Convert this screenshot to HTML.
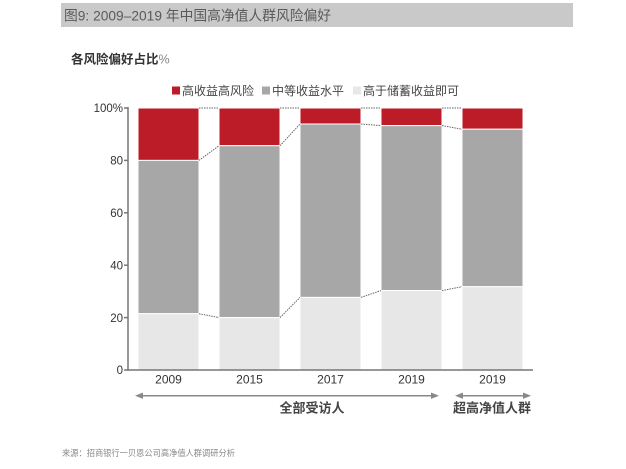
<!DOCTYPE html>
<html><head><meta charset="utf-8"><style>
html,body{margin:0;padding:0;background:#fff;}
body{width:626px;height:469px;overflow:hidden;position:relative;font-family:"Liberation Sans","Noto Sans CJK SC",sans-serif;}
</style></head><body>
<svg width="626" height="469" viewBox="0 0 626 469" xmlns="http://www.w3.org/2000/svg" style="position:absolute;left:0;top:0">
<rect x="61" y="3" width="512" height="24" fill="#c9c9c9"/>
<text x="64" y="20.5" font-size="14" fill="#5a5a5a" font-family="Liberation Sans, Noto Sans CJK SC, sans-serif" textLength="267" lengthAdjust="spacingAndGlyphs">图9: 2009–2019 年中国高净值人群风险偏好</text>
<text x="71" y="63.5" font-size="12.5" fill="#333" font-weight="bold" font-family="Liberation Sans, Noto Sans CJK SC, sans-serif">各风险偏好占比<tspan font-weight="normal" fill="#888">%</tspan></text>
<!-- legend -->
<rect x="172" y="86.5" width="8" height="8" fill="#bc1c27"/>
<text x="182" y="95" font-size="12" fill="#444" font-family="Liberation Sans, Noto Sans CJK SC, sans-serif">高收益高风险</text>
<rect x="262" y="86.5" width="8" height="8" fill="#a7a7a7"/>
<text x="272" y="95" font-size="12" fill="#444" font-family="Liberation Sans, Noto Sans CJK SC, sans-serif">中等收益水平</text>
<rect x="353" y="86.5" width="8" height="8" fill="#e6e7e6"/>
<text x="363" y="95" font-size="12" fill="#444" font-family="Liberation Sans, Noto Sans CJK SC, sans-serif">高于储蓄收益即可</text>
<!-- bars -->
<g stroke="#fff" stroke-width="1">
<rect x="138" y="108" width="61" height="52.4" fill="#bc1c27"/>
<rect x="138" y="160.4" width="61" height="153.3" fill="#a7a7a7"/>
<rect x="138" y="313.7" width="61" height="56.3" fill="#e6e7e6"/>
<rect x="219" y="108" width="61" height="37.7" fill="#bc1c27"/>
<rect x="219" y="145.7" width="61" height="171.9" fill="#a7a7a7"/>
<rect x="219" y="317.6" width="61" height="52.4" fill="#e6e7e6"/>
<rect x="300" y="108" width="61" height="16" fill="#bc1c27"/>
<rect x="300" y="124" width="61" height="173.4" fill="#a7a7a7"/>
<rect x="300" y="297.4" width="61" height="72.6" fill="#e6e7e6"/>
<rect x="381" y="108" width="61" height="17.6" fill="#bc1c27"/>
<rect x="381" y="125.6" width="61" height="165" fill="#a7a7a7"/>
<rect x="381" y="290.6" width="61" height="79.4" fill="#e6e7e6"/>
<rect x="462" y="108" width="61" height="21.2" fill="#bc1c27"/>
<rect x="462" y="129.2" width="61" height="157.5" fill="#a7a7a7"/>
<rect x="462" y="286.7" width="61" height="83.3" fill="#e6e7e6"/>
</g>
<!-- connectors -->
<g stroke="#666" stroke-width="1" stroke-dasharray="1.5,1" fill="none">
<line x1="199" y1="108" x2="219" y2="108"/><line x1="280" y1="108" x2="300" y2="108"/><line x1="361" y1="108" x2="381" y2="108"/><line x1="442" y1="108" x2="462" y2="108"/>
<line x1="199" y1="160.4" x2="219" y2="145.7"/><line x1="280" y1="145.7" x2="300" y2="124"/><line x1="361" y1="124" x2="381" y2="125.6"/><line x1="442" y1="125.6" x2="462" y2="129.2"/>
<line x1="199" y1="313.7" x2="219" y2="317.6"/><line x1="280" y1="317.6" x2="300" y2="297.4"/><line x1="361" y1="297.4" x2="381" y2="290.6"/><line x1="442" y1="290.6" x2="462" y2="286.7"/>
</g>
<!-- axes -->
<g stroke="#777" stroke-width="1.5">
<line x1="128" y1="107" x2="128" y2="370.7"/>
<line x1="127.3" y1="370" x2="533" y2="370"/>
<line x1="124" y1="108" x2="128" y2="108"/><line x1="124" y1="160.4" x2="128" y2="160.4"/><line x1="124" y1="212.8" x2="128" y2="212.8"/><line x1="124" y1="265.2" x2="128" y2="265.2"/><line x1="124" y1="317.6" x2="128" y2="317.6"/><line x1="124" y1="370" x2="128" y2="370"/>
</g>
<g font-size="11.5" fill="#333" text-anchor="end" font-family="Liberation Sans, sans-serif">
<text x="123" y="112">100%</text><text x="123" y="164.5">80</text><text x="123" y="217">60</text><text x="123" y="269.5">40</text><text x="123" y="322">20</text><text x="123" y="374">0</text>
</g>
<g font-size="12" fill="#333" text-anchor="middle" font-family="Liberation Sans, sans-serif">
<text x="168.5" y="383.5">2009</text><text x="249.5" y="383.5">2015</text><text x="330.5" y="383.5">2017</text><text x="411.5" y="383.5">2019</text><text x="492.5" y="383.5">2019</text>
</g>
<!-- arrows -->
<g stroke="#888" stroke-width="1.5">
<line x1="140" y1="395.7" x2="434" y2="395.7"/>
<line x1="460" y1="395.7" x2="526" y2="395.7"/>
</g>
<g fill="#888">
<polygon points="135,395.7 143,392.5 143,398.9"/>
<polygon points="439,395.7 431,392.5 431,398.9"/>
<polygon points="455,395.7 463,392.5 463,398.9"/>
<polygon points="531,395.7 523,392.5 523,398.9"/>
</g>
<text x="312" y="412.5" font-size="13" font-weight="bold" fill="#444" text-anchor="middle" font-family="Liberation Sans, Noto Sans CJK SC, sans-serif">全部受访人</text>
<text x="492" y="412.5" font-size="13" font-weight="bold" fill="#444" text-anchor="middle" font-family="Liberation Sans, Noto Sans CJK SC, sans-serif">超高净值人群</text>
<text x="62" y="456" font-size="8.5" fill="#888" font-family="Liberation Sans, Noto Sans CJK SC, sans-serif" textLength="173" lengthAdjust="spacingAndGlyphs">来源：招商银行一贝恩公司高净值人群调研分析</text>
</svg>
</body></html>
